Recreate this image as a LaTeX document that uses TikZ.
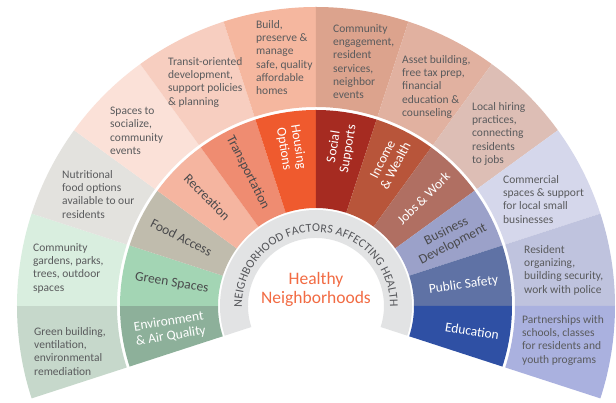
\documentclass[tikz,border=0pt]{standalone}
\usepackage{fontspec}
\setmainfont{Carlito}
\usetikzlibrary{decorations.text}
\definecolor{envIn}{HTML}{8DB09A}\definecolor{envOut}{HTML}{C6D8CB}
\definecolor{greenIn}{HTML}{A3D5B4}\definecolor{greenOut}{HTML}{D9EEDF}
\definecolor{foodIn}{HTML}{C0BCAD}\definecolor{foodOut}{HTML}{E3E2DE}
\definecolor{recIn}{HTML}{F5B5A0}\definecolor{recOut}{HTML}{FBE1D8}
\definecolor{transIn}{HTML}{EF8C71}\definecolor{transOut}{HTML}{F7CEC0}
\definecolor{housIn}{HTML}{EF5A2E}\definecolor{housOut}{HTML}{F5B79F}
\definecolor{socIn}{HTML}{A62B21}\definecolor{socOut}{HTML}{DCA38D}
\definecolor{incIn}{HTML}{B8553A}\definecolor{incOut}{HTML}{E1B1A0}
\definecolor{jobsIn}{HTML}{B06F62}\definecolor{jobsOut}{HTML}{DDBEB5}
\definecolor{busIn}{HTML}{9BA1C9}\definecolor{busOut}{HTML}{D5D7EB}
\definecolor{pubIn}{HTML}{5F72A5}\definecolor{pubOut}{HTML}{BFC3DE}
\definecolor{eduIn}{HTML}{2F50A4}\definecolor{eduOut}{HTML}{AAB1DF}
\definecolor{ringgray}{HTML}{E2E3E4}
\definecolor{ringtext}{HTML}{55565A}
\definecolor{descgray}{HTML}{5A5B5D}
\definecolor{darklabel}{HTML}{4A4A4C}
\definecolor{centerorange}{HTML}{F26B43}
\newcommand\ringseg[5]{\fill[#5] (#1:#3pt) arc[start angle=#1,end angle=#2,radius=#3pt] -- (#2:#4pt) arc[start angle=#2,end angle=#1,radius=#4pt] -- cycle;}
\newcommand\curvefont{\fontsize{12}{12}\selectfont\color{ringtext}}
\begin{document}
\begin{tikzpicture}[x=1pt,y=1pt,
  desc/.style={anchor=north west, inner sep=0pt, align=left, text=descgray, font=\fontsize{11.5}{13.3}\selectfont},
  seglabel/.style={inner sep=0pt, align=center, font=\fontsize{13.5}{14.5}\selectfont},
  darkl/.style={seglabel, text=darklabel},
  whitel/.style={seglabel, text=white}]
\fill[white] (-316,-97) rectangle (300,306);
\useasboundingbox (-316,-97) rectangle (300,306);
% outer ring
\ringseg{198}{180}{199}{299}{envOut}
\ringseg{180}{162}{199}{299}{greenOut}
\ringseg{162}{144}{199}{299}{foodOut}
\ringseg{144}{126}{199}{299}{recOut}
\ringseg{126}{108}{199}{299}{transOut}
\ringseg{108}{90}{199}{299}{housOut}
\ringseg{90}{72}{199}{299}{socOut}
\ringseg{72}{54}{199}{299}{incOut}
\ringseg{54}{36}{199}{299}{jobsOut}
\ringseg{36}{18}{199}{299}{busOut}
\ringseg{18}{0}{199}{299}{pubOut}
\ringseg{0}{-18}{199}{299}{eduOut}
% inner ring
\ringseg{198}{180}{98}{196}{envIn}
\ringseg{180}{162}{98}{196}{greenIn}
\ringseg{162}{144}{98}{196}{foodIn}
\ringseg{144}{126}{98}{196}{recIn}
\ringseg{126}{108}{98}{196}{transIn}
\ringseg{108}{90}{98}{196}{housIn}
\ringseg{90}{72}{98}{196}{socIn}
\ringseg{72}{54}{98}{196}{incIn}
\ringseg{54}{36}{98}{196}{jobsIn}
\ringseg{36}{18}{98}{196}{busIn}
\ringseg{18}{0}{98}{196}{pubIn}
\ringseg{0}{-18}{98}{196}{eduIn}
% gray ring
\ringseg{198}{-18}{68}{96}{ringgray}
\path[decorate, decoration={text along path, text align={fit to path},
  text={|\curvefont|NEIGHBORHOOD FACTORS AFFECTING HEALTH}}]
  (181:74pt) arc[start angle=181,end angle=-1,radius=74pt];
% center
\node[inner sep=0pt, align=center, text=centerorange, font=\fontsize{17.5}{19}\selectfont] (center) at (0,17) {Healthy\\Neighborhoods};
% inner labels
\node[whitel, rotate=9] (lenv) at (189:148pt) {Environment\\\& Air Quality};
\node[darkl, rotate=-9] (lgreen) at (171:146pt) {Green Spaces};
\node[darkl, rotate=-27] (lfood) at (153:151pt) {Food Access};
\node[darkl, rotate=-45] (lrec) at (135:154pt) {Recreation};
\node[darkl, rotate=-63] (ltrans) at (117:150pt) {Transportation};
\node[whitel, rotate=-81] (lhous) at (99:160pt) {Housing\\Options};
\node[whitel, rotate=81] (lsoc) at (81:160pt) {Social\\Supports};
\node[whitel, rotate=63] (linc) at (63:161pt) {Income\\\& Wealth};
\node[whitel, rotate=45] (ljobs) at (45:152pt) {Jobs \& Work};
\node[darkl, rotate=27] (lbus) at (27:150pt) {Business\\Development};
\node[whitel, rotate=8] (lpub) at (8:149pt) {Public Safety};
\node[whitel, rotate=-9] (ledu) at (-9:158pt) {Education};
% descriptions
\node[desc] (denv) at (-282,-21) {Green building,\\ventilation,\\environmental\\remediation};
\node[desc] (dgreen) at (-283,63) {Community\\gardens, parks,\\trees, outdoor\\spaces};
\node[desc] (dfood) at (-254,136) {Nutritional\\food options\\available to our\\residents};
\node[desc] (drec) at (-206,199) {Spaces to\\socialize,\\community\\events};
\node[desc] (dtrans) at (-148,249) {Transit-oriented\\development,\\support policies\\\& planning};
\node[desc] (dhous) at (-60,286) {Build,\\preserve \&\\manage\\safe, quality\\affordable\\homes};
\node[desc] (dsoc) at (17,282) {Community\\engagement,\\resident\\services,\\neighbor\\events};
\node[desc] (dinc) at (86,251) {Asset building,\\free tax prep,\\financial\\education \&\\counseling};
\node[desc] (djobs) at (156,204) {Local hiring\\practices,\\connecting\\residents\\to jobs};
\node[desc] (dbus) at (187,131) {Commercial\\spaces \& support\\for local small\\businesses};
\node[desc] (dpub) at (208,61) {Resident\\organizing,\\building security,\\work with police};
\node[desc] (dedu) at (206,-9) {Partnerships with\\schools, classes\\for residents and\\youth programs};
\end{tikzpicture}
\end{document}
